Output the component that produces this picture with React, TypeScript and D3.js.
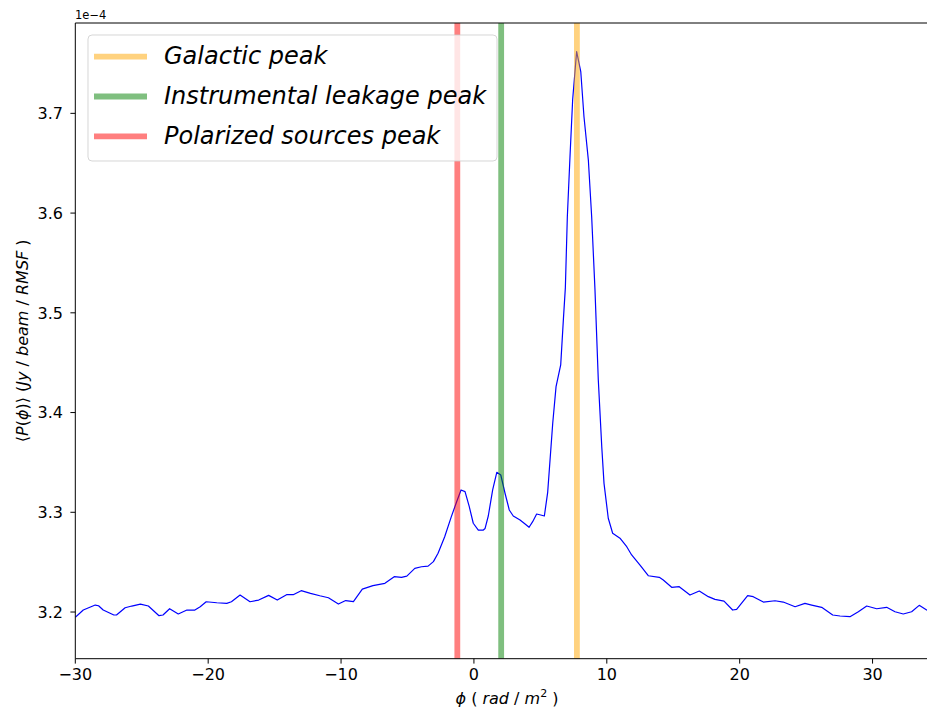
import React from "react";
import * as d3 from "d3";

const phi: number[] = [
  -30, -29.4, -28.5, -28.25, -27.9, -27.1, -26.9, -26.25, -25.75, -25.1, -24.5, -23.7, -23.4, -22.9, -22.25,
  -21.6, -21.0, -20.6, -20.15, -19.35, -18.6, -18.25, -17.6, -16.85, -16.2, -15.45, -14.8, -14.1, -13.6,
  -13.0, -12.3, -11.6, -10.95, -10.2, -9.65, -9.07, -8.4, -7.6, -6.7, -6.0, -5.45, -5.05, -4.45, -3.95,
  -3.45, -3.05, -2.7, -2.2, -1.7, -1.3, -0.97, -0.67, -0.35, -0.05, 0.33, 0.71, 0.84, 1.08, 1.41, 1.72,
  2.02, 2.34, 2.66, 2.96, 3.47, 3.85, 4.15, 4.42, 4.72, 5.03, 5.3, 5.55, 5.93, 6.18, 6.53, 6.73, 6.88,
  7.03, 7.23, 7.43, 7.73, 8.04, 8.28, 8.61, 8.86, 9.11, 9.36, 9.62, 9.79, 10.11, 10.44, 10.99, 11.5,
  11.87, 12.5, 13.12, 13.95, 14.25, 14.88, 15.45, 16.26, 16.96, 17.64, 18.14, 18.82, 19.47, 19.77, 20.6,
  21.02, 21.78, 22.66, 23.28, 24.17, 24.91, 25.42, 26.17, 27.0, 27.55, 28.3, 28.93, 29.56, 30.31, 31.06,
  31.69, 32.31, 32.94, 33.51, 34.07, 34.6,
];

const power: number[] = [
  3.1947, 3.202, 3.207, 3.2063, 3.202, 3.197, 3.197, 3.2043, 3.206, 3.208, 3.206, 3.1963, 3.197, 3.2033, 3.198,
  3.202, 3.202, 3.2053, 3.2103, 3.2093, 3.2087, 3.2103, 3.217, 3.2103, 3.212, 3.2167, 3.212, 3.2174, 3.2174,
  3.2214, 3.2187, 3.2163, 3.2143, 3.208, 3.2115, 3.2105, 3.223, 3.2264, 3.2288, 3.2354, 3.2348, 3.236, 3.2438, 3.2454,
  3.246, 3.2505, 3.2589, 3.2755, 3.2956, 3.3106, 3.3224, 3.3207, 3.3056, 3.289, 3.2822, 3.2822, 3.2838, 3.2963, 3.3224, 3.3401,
  3.3374, 3.3191, 3.3023, 3.2963, 3.2923, 3.2883, 3.285, 3.2906, 3.2983, 3.2973, 3.2963, 3.32, 3.3893, 3.426, 3.4477, 3.4929, 3.525,
  3.5965, 3.6567, 3.7136, 3.762, 3.7419, 3.6968, 3.6534, 3.5965, 3.523, 3.4327, 3.3658, 3.329, 3.294, 3.279, 3.274, 3.2655,
  3.2572, 3.2471, 3.2364, 3.2348, 3.2321, 3.2248, 3.2254, 3.217, 3.2211, 3.2154, 3.2127, 3.211, 3.202, 3.2027, 3.2164,
  3.2154, 3.21, 3.2113, 3.21, 3.2053, 3.2087, 3.207, 3.2047, 3.197, 3.196, 3.1953, 3.2003, 3.206, 3.2033, 3.2047,
  3.2003, 3.198, 3.2003, 3.2067, 3.202, 3.2045,
];

const peakNames: string[] = ["Galactic peak", "Instrumental leakage peak", "Polarized sources peak"];
const peakPhi: number[] = [7.75, 2.05, -1.25];
const peakColors: string[] = ["#ffa500", "#008000", "#ff0000"];

const xTicks: number[] = [-30, -20, -10, 0, 10, 20, 30];
const yTicks: number[] = [3.2, 3.3, 3.4, 3.5, 3.6, 3.7];

const FONT = "DejaVu Sans";

export default function App() {
  const left = 75.3;
  const right = 939;
  const top = 23;
  const bottom = 658.7;
  const x = d3.scaleLinear().domain([-30, 35]).range([left, right]);
  const y = d3.scaleLinear().domain([3.1532, 3.7906]).range([bottom, top]);

  const line = d3
    .line<number>()
    .x((_, i) => x(phi[i]))
    .y((d) => y(d));

  const fmt = (v: number) => (v < 0 ? "\u2212" + Math.abs(v) : String(v));

  return (
    <svg
      width={927}
      height={714}
      style={{ position: "absolute", left: 0, top: 0, background: "#fff" }}
      fontFamily={FONT}
    >
      <defs>
        <clipPath id="plot">
          <rect x={left} y={top} width={right - left} height={bottom - top} />
        </clipPath>
      </defs>
      <rect x={0} y={0} width={927} height={714} fill="#fff" />

      <g clipPath="url(#plot)">
        <path d={line(power) || ""} fill="none" stroke="#0000ff" strokeWidth={1.2} strokeLinejoin="round" />
        {peakPhi.map((p, i) => (
          <line
            key={i}
            x1={x(p)}
            x2={x(p)}
            y1={top}
            y2={bottom}
            stroke={peakColors[i]}
            strokeOpacity={0.5}
            strokeWidth={5.8}
          />
        ))}
      </g>

      {/* spines */}
      <line x1={left} x2={left} y1={top} y2={bottom} stroke="#000" strokeWidth={1} />
      <line x1={left} x2={927} y1={bottom} y2={bottom} stroke="#000" strokeWidth={1} />
      <line x1={left} x2={927} y1={top} y2={top} stroke="#000" strokeWidth={1} />

      {/* x ticks */}
      {xTicks.map((t) => (
        <g key={t}>
          <line x1={x(t)} x2={x(t)} y1={bottom} y2={bottom + 4.9} stroke="#000" strokeWidth={1} />
          <text x={x(t)} y={680} textAnchor="middle" fontSize={16} fill="#000">
            {fmt(t)}
          </text>
        </g>
      ))}

      {/* y ticks */}
      {yTicks.map((t) => (
        <g key={t}>
          <line x1={left - 4.9} x2={left} y1={y(t)} y2={y(t)} stroke="#000" strokeWidth={1} />
          <text x={63} y={y(t) + 5.8} textAnchor="end" fontSize={16} fill="#000">
            {t.toFixed(1)}
          </text>
        </g>
      ))}

      {/* offset text */}
      <text x={75} y={19} fontSize={11.5} fill="#000">
        1e{"\u2212"}4
      </text>

      {/* x label */}
      <text x={507} y={704} textAnchor="middle" fontSize={16} fill="#000">
        <tspan fontStyle="italic">{"\u03d5"}</tspan>
        <tspan> ( </tspan>
        <tspan fontStyle="italic">rad</tspan>
        <tspan> / </tspan>
        <tspan fontStyle="italic">m</tspan>
        <tspan fontSize={11} dy={-7}>2</tspan>
        <tspan dy={7}> )</tspan>
      </text>

      {/* y label */}
      <text
        transform={`translate(28,${(top + bottom) / 2}) rotate(-90)`}
        textAnchor="middle"
        fontSize={16}
        fill="#000"
      >
        <tspan>{"\u27e8"}</tspan>
        <tspan fontStyle="italic">P</tspan>
        <tspan>(</tspan>
        <tspan fontStyle="italic">{"\u03d5"}</tspan>
        <tspan>){"\u27e9"} (</tspan>
        <tspan fontStyle="italic">Jy</tspan>
        <tspan> / </tspan>
        <tspan fontStyle="italic">beam</tspan>
        <tspan> / </tspan>
        <tspan fontStyle="italic">RMSF</tspan>
        <tspan> )</tspan>
      </text>

      {/* legend */}
      <g>
        <rect
          x={88}
          y={35}
          width={409}
          height={126}
          rx={4}
          fill="#fff"
          fillOpacity={0.8}
          stroke="#cccccc"
          strokeOpacity={0.8}
          strokeWidth={1}
        />
        {peakNames.map((n, i) => {
          const cy = 56.7 + i * 39.8;
          return (
            <g key={n}>
              <line
                x1={94}
                x2={147}
                y1={cy}
                y2={cy}
                stroke={peakColors[i]}
                strokeOpacity={0.5}
                strokeWidth={5.8}
              />
              <text x={164} y={cy + 7.5} fontSize={24} fontStyle="italic" fill="#000">
                {n}
              </text>
            </g>
          );
        })}
      </g>
    </svg>
  );
}
